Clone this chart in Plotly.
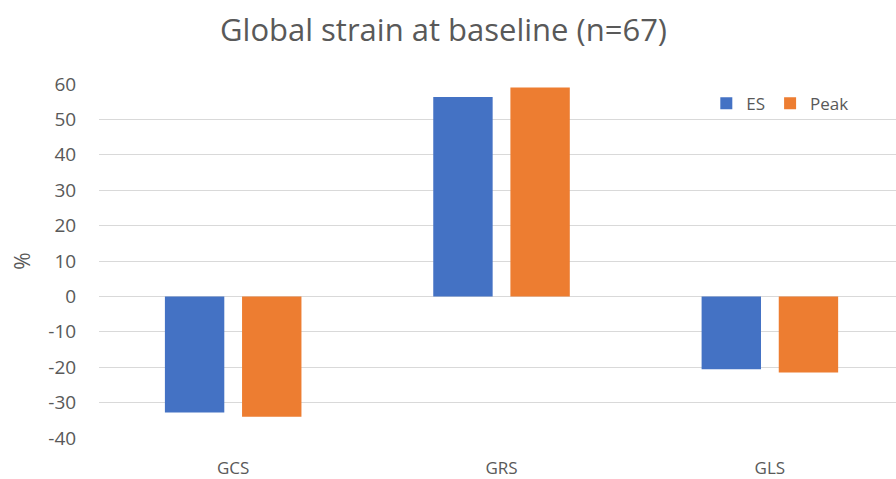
import plotly.graph_objects as go

categories = ["GCS", "GRS", "GLS"]
es_values = [-32.8, 56.3, -20.6]
peak_values = [-34.0, 59.0, -21.5]
y_ticks = [-40, -30, -20, -10, 0, 10, 20, 30, 40, 50, 60]
y_tick_labels = ["-40", "-30", "-20", "-10", "0", "10", "20", "30", "40", "50", "60"]

FONT = "'Open Sans', sans-serif"
GREY = "#595959"

fig = go.Figure()
fig.add_trace(go.Bar(name="ES", x=categories, y=es_values, marker_color="#4472C4",
                     marker_line_width=0))
fig.add_trace(go.Bar(name="Peak", x=categories, y=peak_values, marker_color="#ED7D31",
                     marker_line_width=0))

fig.update_layout(
    width=896, height=479,
    margin=dict(l=99, r=0, t=84, b=41, autoexpand=False),
    paper_bgcolor="white", plot_bgcolor="white",
    barmode="group", bargap=0.425, bargroupgap=0.23,
    title=dict(text="Global strain at baseline (n=67)", x=0.495, xanchor="center",
               xref="container", y=0.937, yanchor="middle",
               font=dict(family=FONT, size=31, color=GREY)),
    font=dict(family=FONT, color=GREY),
    legend=dict(orientation="h", x=0.762, y=0.944, xanchor="left", yanchor="middle",
                font=dict(family=FONT, size=17, color=GREY),
                bgcolor="rgba(0,0,0,0)", itemwidth=30, tracegroupgap=0),
    xaxis=dict(range=[-0.5, 2.47], showgrid=False, showline=False, zeroline=False,
               automargin=False, ticks="outside", ticklen=15, tickcolor="rgba(0,0,0,0)",
               tickfont=dict(family=FONT, size=17, color=GREY)),
    yaxis=dict(range=[-40, 60], tickvals=y_ticks, ticktext=y_tick_labels,
               showgrid=True, gridcolor="#D9D9D9", automargin=False,
               gridwidth=1, zeroline=True, zerolinecolor="#D9D9D9", zerolinewidth=1,
               showline=False, ticks="outside", ticklen=18, tickcolor="rgba(0,0,0,0)",
               tickfont=dict(family=FONT, size=19, color=GREY),
               title=dict(text="%", font=dict(family=FONT, size=21, color=GREY), standoff=12)),
)

fig.write_html("out.html", config={"displayModeBar": False},
               post_script="document.body.style.margin='0';")
